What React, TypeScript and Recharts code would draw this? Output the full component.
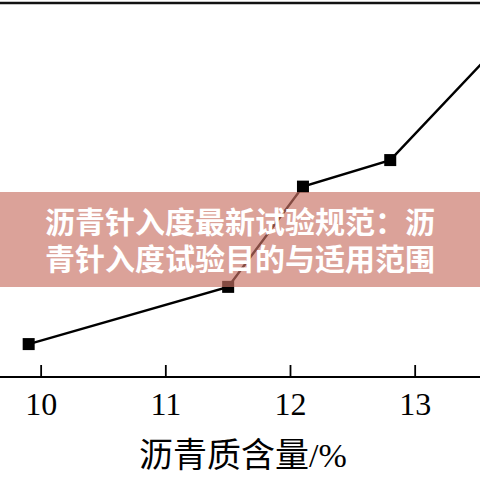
import React from 'react';
import { LineChart, Line, XAxis, YAxis, ReferenceLine } from 'recharts';

// asphaltene content (%)
const asphalteneContent = [9.9, 11.5, 12.1, 12.8, 13.6];
// measured value (relative, y axis not shown in the reference)
const measuredValue = [8.8, 24.1, 50.9, 58.0, 86.2];
const xTicks = [10, 11, 12, 13];

const data = asphalteneContent.map((x, i) => ({ x, y: measuredValue[i] }));

const serif = '"Liberation Serif", "Times New Roman", "Noto Sans CJK SC", serif';

const Tick = (props: any) => {
  const { x, y, payload } = props;
  return (
    <g>
      <line x1={x} x2={x} y1={y - 12} y2={y} stroke="#000" strokeWidth={1.8} />
      <text x={x} y={y + 38} textAnchor="middle" fontFamily={serif} fontSize={32} fill="#000">
        {payload.value}
      </text>
    </g>
  );
};

const SquareDot = (props: any) => {
  const { cx, cy, index } = props;
  if (cx == null || cy == null) return <g key={`d${index}`} />;
  return <rect key={`d${index}`} x={cx - 6} y={cy - 6} width={12} height={12} fill="#000" />;
};

export default function App() {
  return (
    <div style={{ position: 'fixed', left: 0, top: 0, width: 480, height: 480, background: '#fff' }}>
      <LineChart width={480} height={480} data={data} margin={{ top: 3, right: 0, bottom: 0, left: 0 }}>
        <XAxis
          dataKey="x"
          type="number"
          domain={[9.67, 13.52]}
          ticks={xTicks}
          allowDataOverflow
          height={103}
          axisLine={{ stroke: '#000', strokeWidth: 2 }}
          tickLine={false}
          tickSize={0}
          tickMargin={0}
          tick={<Tick />}
          interval={0}
          label={{
            value: '沥青质含量/%',
            position: 'insideBottom',
            offset: 13,
            fontSize: 34,
            fill: '#000',
            fontFamily: serif,
            dx: 3,
          }}
        />
        <YAxis hide type="number" domain={[0, 100]} allowDataOverflow />
        <ReferenceLine y={100} stroke="#111" strokeWidth={2.5} />
        <Line
          type="linear"
          dataKey="y"
          stroke="#000"
          strokeWidth={2.4}
          dot={SquareDot}
          activeDot={false}
          isAnimationActive={false}
        />
      </LineChart>
      <div
        style={{
          position: 'absolute',
          left: 0,
          top: 192,
          width: 480,
          height: 95,
          background: 'rgba(200, 114, 100, 0.66)',
          color: '#fff',
          fontFamily: '"Noto Sans CJK SC", sans-serif',
          fontWeight: 700,
          fontSize: 30,
          lineHeight: '37px',
          textAlign: 'center',
          whiteSpace: 'nowrap',
          boxSizing: 'border-box',
          paddingTop: 10,
        }}
      >
        沥青针入度最新试验规范：沥
        <br />
        青针入度试验目的与适用范围
      </div>
    </div>
  );
}
